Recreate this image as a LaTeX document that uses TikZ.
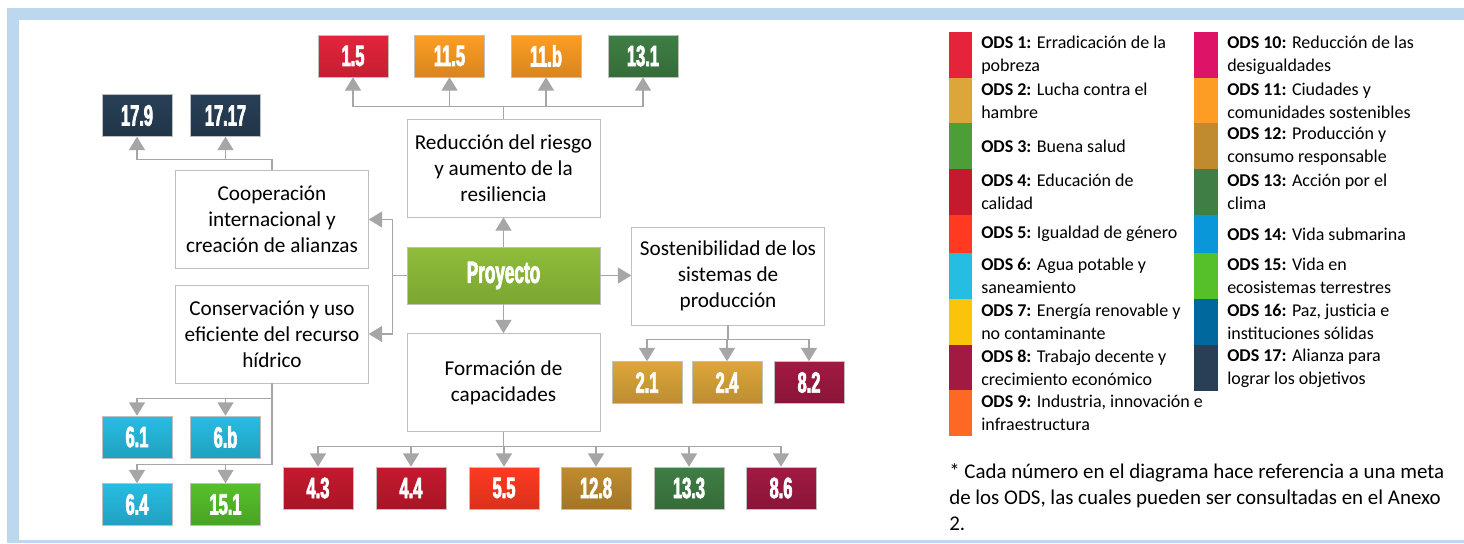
\documentclass[tikz,border=0pt]{standalone}
\usepackage{fontspec}
\setmainfont{Carlito}
\newfontfamily\numfont[FakeStretch=0.56,FakeBold=2.4]{Liberation Sans}
\usepackage{xcolor}
\usetikzlibrary{arrows.meta,positioning,calc}

\definecolor{ods1}{HTML}{E5243B}
\definecolor{ods2}{HTML}{DDA63A}
\definecolor{ods3}{HTML}{4C9F38}
\definecolor{ods4}{HTML}{C5192D}
\definecolor{ods5}{HTML}{FF3A21}
\definecolor{ods6}{HTML}{26BDE2}
\definecolor{ods7}{HTML}{FCC30B}
\definecolor{ods8}{HTML}{A21942}
\definecolor{ods9}{HTML}{FD6925}
\definecolor{ods10}{HTML}{DD1367}
\definecolor{ods11}{HTML}{FD9D24}
\definecolor{ods12}{HTML}{BF8B2E}
\definecolor{ods13}{HTML}{3F7E44}
\definecolor{ods14}{HTML}{0A97D9}
\definecolor{ods15}{HTML}{56C02B}
\definecolor{ods16}{HTML}{00689D}
\definecolor{ods17}{HTML}{283F56}
\definecolor{frameblue}{HTML}{BDD7EE}
\definecolor{linegray}{HTML}{A6A6A6}
\definecolor{boxgray}{HTML}{BFBFBF}
\definecolor{proytop}{HTML}{8FBD3B}
\definecolor{proybot}{HTML}{7BA631}

\begin{document}
\begin{tikzpicture}[x=0.75pt,y=-0.75pt,
    box/.style={draw=boxgray, fill=white, minimum width=144.75pt, minimum height=73.5pt, align=center, inner sep=2pt, font=\fontsize{15.9}{19.5}\selectfont},
    proj/.style={draw=boxgray, top color=proytop, bottom color=proybot, minimum width=144.75pt, minimum height=42.75pt, text=white, font=\numfont\bfseries\fontsize{23}{23}\selectfont},
    meta/.style={draw=boxgray, top color=#1, bottom color=#1!85!black, minimum width=52.5pt, minimum height=31.5pt, inner sep=0pt, text=white, font=\numfont\bfseries\fontsize{22}{22}\selectfont},
    link/.style={draw=linegray, line width=0.9pt},
    arr/.style={link, -{Triangle[width=12pt,length=10pt]}},
    legtext/.style={anchor=west, align=left, inner sep=0pt, font=\fontsize{13.5}{17}\selectfont}]
    \useasboundingbox (0,0) rectangle (1464,543);
    \fill[frameblue] (7,8) rectangle (1464,20);
    \fill[frameblue] (7,8) rectangle (19,543);
    \fill[frameblue] (7,540) rectangle (1464,543);

    \node[box] (red) at (503.5,168) {Reducción del riesgo\\y aumento de la\\resiliencia};
    \node[proj] (proy) at (503.5,275.5) {Proyecto};
    \node[box] (form) at (503.5,382.5) {Formación de\\capacidades};
    \node[box] (sost) at (728,276) {Sostenibilidad de los\\sistemas de\\producción};
    \node[box] (coop) at (272,219.5) {Cooperación\\internacional y\\creación de alianzas};
    \node[box] (cons) at (272,334) {Conservación y uso\\eficiente del recurso\\hídrico};

    \node[meta=ods1] (m15) at (353,56) {1.5};
    \node[meta=ods11] (m115) at (449.5,56) {11.5};
    \node[meta=ods11] (m11b) at (546,56) {11.b};
    \node[meta=ods13] (m131) at (643,56) {13.1};
    \node[meta=ods17] (m179) at (137,115.5) {17.9};
    \node[meta=ods17] (m1717) at (225.5,115.5) {17.17};
    \node[meta=ods6] (m61) at (137,437) {6.1};
    \node[meta=ods6] (m6b) at (225.5,437) {6.b};
    \node[meta=ods6] (m64) at (137,504.5) {6.4};
    \node[meta=ods15] (m151) at (225.5,504.5) {15.1};
    \node[meta=ods2] (m21) at (647,382.5) {2.1};
    \node[meta=ods2] (m24) at (727,382.5) {2.4};
    \node[meta=ods8] (m82) at (809,382.5) {8.2};
    \node[meta=ods4] (m43) at (318,488) {4.3};
    \node[meta=ods4] (m44) at (411,488) {4.4};
    \node[meta=ods5] (m55) at (504,488) {5.5};
    \node[meta=ods12] (m128) at (596,488) {12.8};
    \node[meta=ods13] (m133) at (689,488) {13.3};
    \node[meta=ods8] (m86) at (781,488) {8.6};

    \draw[arr] (proy) -- (red);
    \draw[arr] (proy) -- (form);
    \draw[arr] (proy.east) -- (proy.east -| sost.west);
    \draw[arr] (proy.west) -- ++(-14,0) |- (coop.east);
    \draw[arr] (proy.west) -- ++(-14,0) |- (cons.east);
    \foreach \m in {m15,m115,m11b,m131} \draw[arr] (red.north) -- ++(0,-12) -| (\m.south);
    \foreach \m in {m179,m1717} \draw[arr] (coop.north) -- ++(0,-11) -| (\m.south);
    \foreach \m in {m61,m6b} \draw[arr] (cons.south) -- ++(0,15) -| (\m.north);
    \foreach \m in {m64,m151} \draw[arr] (cons.south) -- ++(0,81) -| (\m.north);
    \foreach \m in {m21,m24,m82} \draw[arr] (sost.south) -- ++(0,14) -| (\m.north);
    \foreach \m in {m43,m44,m55,m128,m133,m86} \draw[arr] (form.south) -- ++(0,15) -| (\m.north);

    \foreach \c/\ya/\yb/\txt in {
        ods1/32/78/{\textbf{ODS 1:} Erradicación de la\\pobreza},
        ods2/78/123/{\textbf{ODS 2:} Lucha contra el\\hambre},
        ods3/123/169/{\textbf{ODS 3:} Buena salud},
        ods4/169/215/{\textbf{ODS 4:} Educación de\\calidad},
        ods5/215/253/{\textbf{ODS 5:} Igualdad de género},
        ods6/253/299/{\textbf{ODS 6:} Agua potable y\\saneamiento},
        ods7/299/345/{\textbf{ODS 7:} Energía renovable y\\no contaminante},
        ods8/345/390/{\textbf{ODS 8:} Trabajo decente y\\crecimiento económico},
        ods9/390/436/{\textbf{ODS 9:} Industria, innovación e\\infraestructura}}
    {
        \fill[\c] (949,\ya) rectangle (972,\yb);
        \node[legtext] (l\c) at (981,{(\ya+\yb)/2}) {\txt};
    }
    \foreach \c/\ya/\yb/\txt in {
        ods10/32/78/{\textbf{ODS 10:} Reducción de las\\desigualdades},
        ods11/78/123/{\textbf{ODS 11:} Ciudades y\\comunidades sostenibles},
        ods12/123/169/{\textbf{ODS 12:} Producción y\\consumo responsable},
        ods13/169/215/{\textbf{ODS 13:} Acción por el\\clima},
        ods14/215/253/{\textbf{ODS 14:} Vida submarina},
        ods15/253/299/{\textbf{ODS 15:} Vida en\\ecosistemas terrestres},
        ods16/299/345/{\textbf{ODS 16:} Paz, justicia e\\instituciones sólidas},
        ods17/345/391/{\textbf{ODS 17:} Alianza para\\lograr los objetivos}}
    {
        \fill[\c] (1194,\ya) rectangle (1218,\yb);
        \node[legtext] (l\c) at (1227,{(\ya+\yb)/2}) {\txt};
    }

    \node[anchor=north west, align=left, inner sep=0pt, font=\fontsize{15.7}{19.5}\selectfont] (nota) at (949,463) {* Cada número en el diagrama hace referencia a una meta\\de los ODS, las cuales pueden ser consultadas en el Anexo\\2.};
\end{tikzpicture}
\end{document}
